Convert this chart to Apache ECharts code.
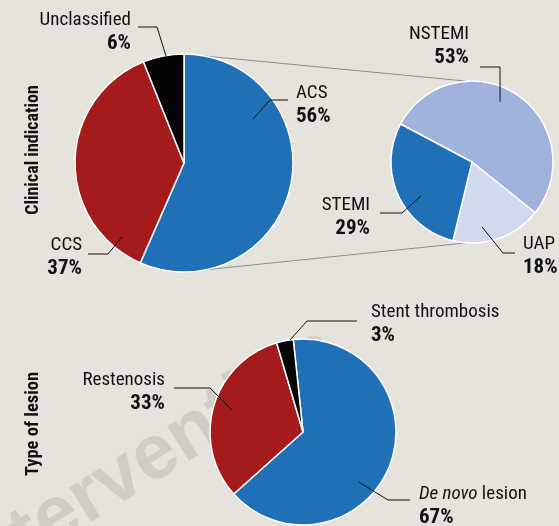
<!DOCTYPE html>
<html>
<head>
<meta charset="utf-8">
<script src="https://cdn.jsdelivr.net/npm/echarts@6/dist/echarts.min.js"></script>
<style>
  html, body { margin: 0; padding: 0; background: #e6e3dc; }
  #chart { width: 559px; height: 526px; }
</style>
</head>
<body>
<div id="chart"></div>
<script>
// Clinical indication (share of procedures, %)
const indicationNames = ['ACS', 'CCS', 'Unclassified'];
const indicationValues = [56, 37, 6];
// Breakdown of ACS (%)
const acsNames = ['NSTEMI', 'UAP', 'STEMI'];
const acsValues = [53, 18, 29];
// Type of lesion (%)
const lesionNames = ['De novo lesion', 'Restenosis', 'Stent thrombosis'];
const lesionValues = [67, 33, 3];

const FONT = "'Roboto Condensed', 'Liberation Sans', sans-serif";
const BG = '#e6e3dc';
const BLUE = '#1f70b7';
const RED = '#a51b1b';
const BLACK = '#050505';
const LIGHT_BLUE = '#9fb3dc';
const PALE_BLUE = '#d1d9ef';

// Pie geometry
const pies = {
  indication: { center: [184, 163], radius: 109, startAngle: 90 },
  acs:        { center: [472, 162], radius: 81,  startAngle: 152 },
  lesion:     { center: [303, 432], radius: 93,  startAngle: 96 }
};

// Callout placement per slice: text anchor, leader start (angle clockwise from 12 o'clock, fraction of radius), elbow and end
const callouts = {
  indication: [
    { x: 296, y: 81,  align: 'left',  from: [57.5, 0.75], elbow: [270, 100], end: [288, 100] },
    { x: 82,  y: 233, align: 'right', from: [220, 0.885], elbow: [108, 254], end: [88, 254] },
    { x: 131, y: 8,   align: 'right', from: [350.5, 0.99], elbow: [157, 27], end: [138, 27] }
  ],
  acs: [
    { x: 469, y: 22,  align: 'right', from: [25, 0.82],   elbow: [500, 67],  end: [480, 67] },
    { x: 523, y: 232, align: 'left',  from: [171.3, 0.81], elbow: [503, 253], end: [515, 253] },
    { x: 370, y: 193, align: 'right', from: [236.3, 0.76], elbow: [402, 213], end: [380, 213] }
  ],
  lesion: [
    { x: 419, y: 482, align: 'left',  from: [131.8, 0.81], elbow: [388, 500], end: [410, 500] },
    { x: 165, y: 368, align: 'right', from: [287.2, 0.8],  elbow: [210, 388], end: [174, 388] },
    { x: 371, y: 300, align: 'left',  from: [352, 1.0],    elbow: [307, 321], end: [357, 321] }
  ]
};

function polarPoint(pie, angleDeg, frac) {
  const a = angleDeg * Math.PI / 180;
  const r = pie.radius * frac;
  return [pie.center[0] + r * Math.sin(a), pie.center[1] - r * Math.cos(a)];
}

function formatName(name) {
  if (name.indexOf('De novo') === 0) {
    return '{i|De novo}{n| ' + name.slice(8) + '}';
  }
  return '{n|' + name + '}';
}

const rich = {
  n: { fontFamily: FONT, fontSize: 19, fontWeight: 'normal', color: '#111', lineHeight: 24 },
  i: { fontFamily: FONT, fontSize: 19, fontStyle: 'italic', color: '#111', lineHeight: 24 },
  p: { fontFamily: FONT, fontSize: 21, fontWeight: 'bold', color: '#111', lineHeight: 24 }
};

// Filled slices
function pieSeries(key, names, values, colors) {
  const pie = pies[key];
  return {
    type: 'pie',
    silent: true,
    z: 2,
    center: pie.center,
    radius: [0, pie.radius],
    startAngle: pie.startAngle,
    clockwise: true,
    itemStyle: { borderColor: '#ffffff', borderWidth: 1.5 },
    label: { show: false },
    labelLine: { show: false },
    data: names.map((n, i) => ({ name: n, value: values[i], itemStyle: { color: colors[i] } }))
  };
}

// Transparent twin carrying the callouts, so leader lines sit on top of the slices
function calloutSeries(key, names, values) {
  const pie = pies[key];
  const place = callouts[key];
  return {
    type: 'pie',
    silent: true,
    z: 3,
    center: pie.center,
    radius: [0, pie.radius],
    startAngle: pie.startAngle,
    clockwise: true,
    avoidLabelOverlap: false,
    itemStyle: { color: 'rgba(0,0,0,0)', borderWidth: 0 },
    label: {
      show: true,
      position: 'outside',
      formatter: p => formatName(p.name) + '\n{p|' + p.value + '%}',
      rich: rich
    },
    labelLine: { show: true, lineStyle: { color: '#111', width: 1 } },
    labelLayout: function (params) {
      const c = place[params.dataIndex];
      return {
        x: c.x,
        y: c.y,
        align: c.align,
        verticalAlign: 'top',
        labelLinePoints: [polarPoint(pie, c.from[0], c.from[1]), c.elbow, c.end]
      };
    },
    data: names.map((n, i) => ({ name: n, value: values[i] }))
  };
}

// Grey connectors from the ACS pie to its breakdown
const p1 = pies.indication, p2 = pies.acs;
const connectorTop = [p1.center[0], p1.center[1] - p1.radius, p2.center[0] - 7, p2.center[1] - p2.radius];
const connectorBottom = [p1.center[0], p1.center[1] + p1.radius, p2.center[0] - 7, p2.center[1] + p2.radius];

// Journal watermark, laid out so the 'e' after 'Int' falls at a chosen spot
const WM_TEXT = 'EuroIntervention';
const WM_FONT = "bold 77px 'Liberation Sans', sans-serif";
const WM_ANGLE = 32 * Math.PI / 180;
const wmAnchor = [57, 518];
const measureCtx = document.createElement('canvas').getContext('2d');
measureCtx.font = WM_FONT;
const wmOffset = measureCtx.measureText('EuroInt').width + measureCtx.measureText('e').width / 2;
const wmOrigin = [wmAnchor[0] - wmOffset * Math.cos(WM_ANGLE), wmAnchor[1] + wmOffset * Math.sin(WM_ANGLE)];

const chart = echarts.init(document.getElementById('chart'), null, { renderer: 'canvas' });
chart.setOption({
  backgroundColor: BG,
  animation: false,
  textStyle: { fontFamily: FONT },
  graphic: [
    {
      type: 'text', x: wmOrigin[0], y: wmOrigin[1], rotation: WM_ANGLE, z: 0, silent: true,
      style: { text: WM_TEXT, font: WM_FONT, fill: '#d0cdc7', align: 'left', verticalAlign: 'middle' }
    },
    {
      type: 'line', z: 1, silent: true,
      shape: { x1: connectorTop[0], y1: connectorTop[1], x2: connectorTop[2], y2: connectorTop[3] },
      style: { stroke: '#8d8d8d', lineWidth: 1 }
    },
    {
      type: 'line', z: 1, silent: true,
      shape: { x1: connectorBottom[0], y1: connectorBottom[1], x2: connectorBottom[2], y2: connectorBottom[3] },
      style: { stroke: '#8d8d8d', lineWidth: 1 }
    },
    {
      type: 'text', x: 33, y: 150, rotation: Math.PI / 2, silent: true,
      style: { text: 'Clinical indication', font: 'bold 18px ' + FONT, fill: '#111', align: 'center', verticalAlign: 'middle' }
    },
    {
      type: 'text', x: 33, y: 424, rotation: Math.PI / 2, silent: true,
      style: { text: 'Type of lesion', font: 'bold 18.5px ' + FONT, fill: '#111', align: 'center', verticalAlign: 'middle' }
    }
  ],
  series: [
    pieSeries('indication', indicationNames, indicationValues, [BLUE, RED, BLACK]),
    pieSeries('acs', acsNames, acsValues, [LIGHT_BLUE, PALE_BLUE, BLUE]),
    pieSeries('lesion', lesionNames, lesionValues, [BLUE, RED, BLACK]),
    calloutSeries('indication', indicationNames, indicationValues),
    calloutSeries('acs', acsNames, acsValues),
    calloutSeries('lesion', lesionNames, lesionValues)
  ]
});
</script>
</body>
</html>
